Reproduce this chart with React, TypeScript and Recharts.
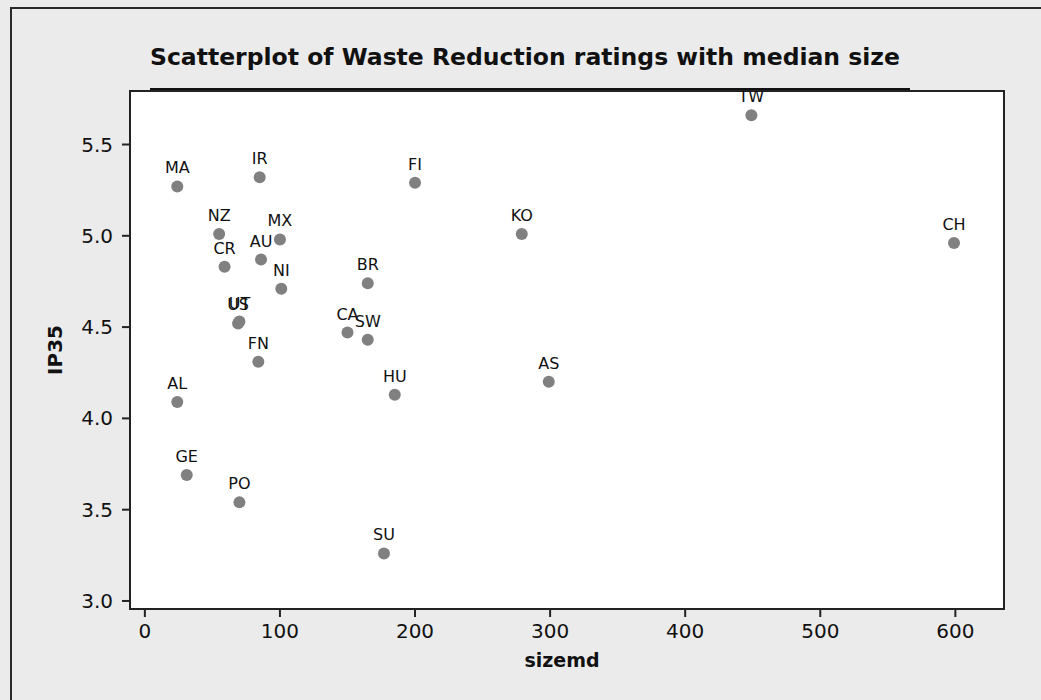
import { ScatterChart, Scatter, XAxis, YAxis, ReferenceArea, Label } from "recharts"

const countries = ["MA", "IR", "NZ", "MX", "AU", "CR", "NI", "UT", "US", "FN", "CA", "SW", "BR", "FI", "KO", "TW", "CH", "AS", "AL", "HU", "GE", "PO", "SU"]
const sizemd = [24, 85, 55, 100, 86, 59, 101, 70, 69, 84, 150, 165, 165, 200, 279, 449, 599, 299, 24, 185, 31, 70, 177]
const ip35 = [5.27, 5.32, 5.01, 4.98, 4.87, 4.83, 4.71, 4.53, 4.52, 4.31, 4.47, 4.43, 4.74, 5.29, 5.01, 5.66, 4.96, 4.2, 4.09, 4.13, 3.69, 3.54, 3.26]
const xTicks = [0, 100, 200, 300, 400, 500, 600]
const yTicks = [3.0, 3.5, 4.0, 4.5, 5.0, 5.5]

const data = countries.map((name, i) => ({ name, x: sizemd[i], y: ip35[i] }))

const font = "'DejaVu Sans', Verdana, sans-serif"
const ink = "#222"

const Dot = (props: any) => {
    const { cx, cy, payload } = props
    return (
        <g>
            <circle cx={cx} cy={cy} r={6} fill="#808080" />
            <text x={cx} y={cy - 13} textAnchor="middle" fontSize={16} fontFamily={font} fill="#111">
                {payload.name}
            </text>
        </g>
    )
}

const App = () => {
    return (
        <div style={{ position: "relative", width: 1041, height: 700, overflow: "hidden", background: "#ebebeb", fontFamily: font }}>
            <style>{"body{margin:0}"}</style>
            <div style={{ position: "absolute", left: 10, top: 7, width: 1200, height: 900, border: "2px solid #2a2a2a" }} />
            <div style={{ position: "absolute", left: 150, top: 46, fontSize: 23.5, lineHeight: 1, fontWeight: "bold", color: "#111", whiteSpace: "nowrap" }}>
                Scatterplot of Waste Reduction ratings with median size
            </div>
            <div style={{ position: "absolute", left: 0, top: 0 }}>
                <ScatterChart width={1041} height={700} margin={{ top: 91, right: 37, bottom: 0, left: 0 }}>
                    <ReferenceArea x1={-11} x2={636} y1={2.956} y2={5.793} fill="#fff" fillOpacity={1} stroke={ink} strokeWidth={2} />
                    <XAxis
                        dataKey="x"
                        type="number"
                        domain={[-11, 636]}
                        allowDataOverflow
                        ticks={xTicks}
                        height={91}
                        tickSize={8}
                        tickMargin={7}
                        axisLine={{ stroke: ink, strokeWidth: 2 }}
                        tickLine={{ stroke: ink, strokeWidth: 2 }}
                        tick={{ fontSize: 20, fill: "#111", fontFamily: font }}
                    >
                        <Label value="sizemd" position="center" dx={-5} dy={6} style={{ fontSize: 19, fontWeight: "bold", fill: "#111", fontFamily: font }} />
                    </XAxis>
                    <YAxis
                        dataKey="y"
                        type="number"
                        domain={[2.956, 5.793]}
                        allowDataOverflow
                        ticks={yTicks}
                        tickFormatter={(v: number) => v.toFixed(1)}
                        width={130}
                        tickSize={8}
                        tickMargin={9}
                        axisLine={{ stroke: ink, strokeWidth: 2 }}
                        tickLine={{ stroke: ink, strokeWidth: 2 }}
                        tick={{ fontSize: 20, fill: "#111", fontFamily: font }}
                    >
                        <Label value="IP35" position="center" angle={-90} dx={-10} style={{ fontSize: 20, fontWeight: "bold", fill: "#111", fontFamily: font }} />
                    </YAxis>
                    <Scatter data={data} shape={Dot} isAnimationActive={false} />
                </ScatterChart>
            </div>
            <div style={{ position: "absolute", left: 150, top: 88, width: 760, height: 2, background: "#111" }} />
        </div>
    )
}

export default App
